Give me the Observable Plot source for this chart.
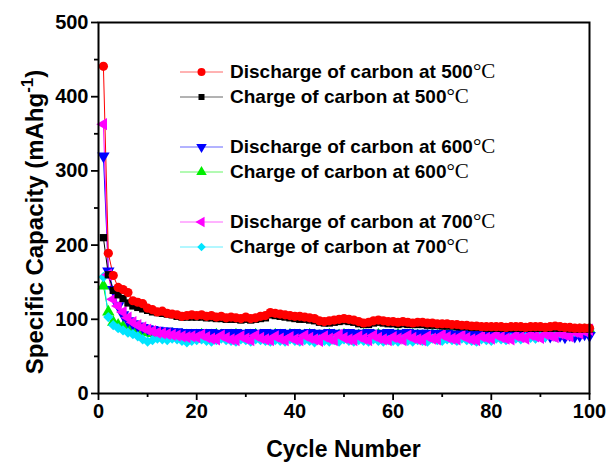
<!DOCTYPE html>
<html>
<head>
<meta charset="utf-8">
<script src="https://cdn.jsdelivr.net/npm/d3@7"></script>
<script src="https://cdn.jsdelivr.net/npm/@observablehq/plot@0.6"></script>
<style>
  body { margin: 0; background: #fff; }
  #chart { position: relative; width: 606px; height: 464px; }
  #legend { position: absolute; left: 180px; top: 59px; font: bold 19px "Liberation Sans", Arial, sans-serif; color: #000; }
  #legend .row { display: flex; align-items: center; height: 25px; white-space: nowrap; }
  #legend .gap { height: 25px; }
  #legend svg { margin-right: 7px; }
  #legend .deg { font-family: "Liberation Serif", "Times New Roman", serif; font-weight: normal; font-size: 21px; }
</style>
</head>
<body>
<div id="chart"></div>
<script>
// Cycle numbers
const cycles = d3.range(1, 101);

// Specific capacity (mAh/g) per cycle
const discharge500 = [
  441, 189, 159, 143, 140, 136, 125, 123, 121, 115,
  113, 110, 111, 108, 107, 106, 104, 105, 106, 105,
  106, 104, 105, 103, 104, 102, 103, 102, 101, 103,
  101, 102, 104, 105, 109, 108, 107, 106, 105, 104,
  104, 103, 102, 101, 98, 97, 98, 99, 100, 101,
  100, 99, 97, 95, 96, 98, 99, 98, 97, 97,
  96, 97, 96, 95, 96, 96, 95, 95, 94, 94,
  94, 93, 93, 92, 92, 91, 91, 90, 90, 90,
  90, 90, 89, 90, 90, 90, 89, 90, 90, 90,
  89, 90, 91, 90, 89, 89, 88, 88, 88, 88
];
const charge500 = [
  210, 160, 139, 133, 128, 122, 118, 116, 114, 112,
  110, 109, 108, 107, 106, 104, 103, 103, 103, 103,
  103, 102, 102, 101, 101, 100, 100, 100, 99, 100,
  99, 100, 101, 102, 106, 105, 104, 103, 102, 101,
  100, 100, 99, 98, 96, 95, 95, 96, 97, 98,
  97, 96, 94, 93, 93, 95, 96, 95, 94, 94,
  93, 94, 93, 93, 93, 93, 92, 92, 92, 91,
  91, 91, 90, 90, 90, 89, 89, 89, 88, 88,
  88, 88, 88, 88, 88, 88, 88, 88, 88, 88,
  88, 88, 88, 88, 88, 87, 87, 87, 87, 87
];
const discharge600 = [
  320, 165, 140, 118, 106, 98, 94, 91, 89, 87,
  86, 85, 84, 84, 83, 83, 82, 82, 82, 82,
  82, 81, 82, 81, 80, 82, 81, 82, 81, 80,
  82, 81, 80, 82, 81, 81, 82, 80, 81, 82,
  81, 80, 82, 81, 80, 81, 82, 81, 80, 81,
  82, 81, 80, 81, 82, 81, 80, 81, 82, 81,
  80, 81, 82, 81, 80, 81, 81, 80, 81, 80,
  81, 80, 79, 81, 80, 79, 80, 81, 79, 80,
  80, 79, 78, 80, 79, 78, 80, 79, 77, 79,
  78, 77, 79, 78, 76, 79, 77, 78, 80, 78
];
const charge600 = [
  145, 110, 96, 92, 90, 88, 86, 84, 83, 82,
  81, 80, 80, 79, 80, 79, 79, 78, 78, 78,
  79, 78, 78, 79, 78, 77, 78, 79, 78, 78,
  78, 79, 78, 77, 78, 79, 78, 78, 79, 78,
  78, 78, 79, 78, 77, 78, 79, 78, 78, 79,
  78, 77, 78, 79, 78, 78, 79, 78, 77, 78,
  79, 78, 78, 79, 78, 77, 78, 79, 78, 78,
  79, 78, 78, 79, 79, 78, 79, 80, 79, 79,
  80, 79, 80, 80, 81, 80, 81, 82, 81, 82,
  82, 83, 82, 83, 84, 83, 84, 85, 85, 86
];
const discharge700 = [
  363, 160, 127, 118, 110, 102, 96, 92, 89, 86,
  84, 82, 81, 80, 79, 78, 77, 76, 77, 76,
  79, 76, 74, 73, 78, 75, 73, 72, 77, 74,
  72, 78, 75, 73, 72, 77, 74, 72, 76, 73,
  72, 78, 75, 73, 71, 77, 74, 72, 79, 75,
  73, 72, 77, 74, 72, 78, 75, 73, 72, 76,
  74, 72, 78, 75, 73, 72, 77, 74, 73, 79,
  76, 74, 73, 78, 75, 73, 72, 77, 75, 74,
  79, 76, 74, 73, 78, 76, 74, 79, 77, 75,
  80, 78, 76, 81, 79, 77, 83, 81, 84, 86
];
const charge700 = [
  157, 103, 92, 88, 85, 82, 80, 77, 73, 70,
  72, 74, 73, 72, 74, 73, 71, 69, 71, 72,
  73, 71, 70, 72, 74, 72, 71, 70, 73, 72,
  70, 73, 72, 71, 70, 72, 71, 70, 73, 71,
  70, 72, 71, 69, 73, 71, 70, 72, 70, 73,
  71, 70, 72, 71, 70, 73, 71, 70, 72, 71,
  70, 73, 71, 70, 72, 71, 70, 74, 72, 71,
  73, 72, 71, 74, 72, 71, 70, 73, 72, 71,
  74, 73, 72, 75, 74, 73, 76, 75, 74, 77,
  76, 79, 78, 81, 80, 79, 83, 82, 85, 87
];

// Series in drawing order (later ones on top)
const series = [
  {name: "Charge of carbon at 600", values: charge600, color: "#00ee00", symbol: "triangle", rotate: 0, r: 4.6},
  {name: "Discharge of carbon at 600", values: discharge600, color: "#0000ff", symbol: "triangle", rotate: 180, r: 4.6},
  {name: "Charge of carbon at 700", values: charge700, color: "#00e5ff", symbol: "square", rotate: 45, r: 4.1},
  {name: "Discharge of carbon at 700", values: discharge700, color: "#ff00ff", symbol: "triangle", rotate: 270, r: 4.6},
  {name: "Charge of carbon at 500", values: charge500, color: "#000000", symbol: "square", rotate: 0, r: 4.1},
  {name: "Discharge of carbon at 500", values: discharge500, color: "#ff0000", symbol: "circle", rotate: 0, r: 4.6}
];

// Legend order and grouping
const legendOrder = [
  "Discharge of carbon at 500", "Charge of carbon at 500", null,
  "Discharge of carbon at 600", "Charge of carbon at 600", null,
  "Discharge of carbon at 700", "Charge of carbon at 700"
];

const yMajor = [0, 100, 200, 300, 400, 500];
const yMinor = [50, 150, 250, 350, 450];
const xMajor = [0, 20, 40, 60, 80, 100];
const xMinor = [10, 30, 50, 70, 90];

const font = '"Liberation Sans", Arial, sans-serif';

const plot = Plot.plot({
  width: 606,
  height: 464,
  marginLeft: 98,
  marginRight: 17,
  marginTop: 22,
  marginBottom: 71,
  style: {fontFamily: font, fontWeight: "bold", color: "#000", background: "#fff", overflow: "visible"},
  x: {domain: [0, 100]},
  y: {domain: [0, 500]},
  marks: [
    ...series.map(s => Plot.line(s.values, {x: (d, i) => cycles[i], y: d => d, stroke: s.color, strokeWidth: 1})),
    ...series.map(s => Plot.dot(s.values, {x: (d, i) => cycles[i], y: d => d, symbol: s.symbol, rotate: s.rotate, r: s.r, fill: s.color, stroke: "none"})),
    Plot.axisY({ticks: yMajor, tickSize: 7, tickPadding: 3, tickFormat: d => d, label: null, strokeWidth: 1.8, fontSize: 20}),
    Plot.axisY({ticks: yMinor, tickSize: 4, tickFormat: () => "", label: null, strokeWidth: 1.8}),
    Plot.axisX({ticks: xMajor, tickSize: 7, tickPadding: 3, tickFormat: d => d, label: null, strokeWidth: 1.8, fontSize: 20}),
    Plot.axisX({ticks: xMinor, tickSize: 4, tickFormat: () => "", label: null, strokeWidth: 1.8}),
    Plot.frame({stroke: "#000", strokeWidth: 2})
  ]
});

const chart = document.getElementById("chart");
chart.appendChild(plot);

// Axis titles
const svg = d3.select(plot);
const xr = plot.scale("x").range;
svg.append("text")
  .attr("x", (xr[0] + xr[1]) / 2)
  .attr("y", 457)
  .attr("text-anchor", "middle")
  .style("font", `bold 23px ${font}`)
  .text("Cycle Number");

const yt = svg.append("text")
  .attr("transform", "translate(43,222) rotate(-90)")
  .attr("text-anchor", "middle")
  .style("font", `bold 24px ${font}`);
yt.append("tspan").text("Specific Capacity (mAhg");
yt.append("tspan").attr("dy", -10).style("font-size", "17px").text("-1");
yt.append("tspan").attr("dy", 10).text(")");

// Legend
const legend = d3.select(chart).append("div").attr("id", "legend");
for (const name of legendOrder) {
  if (name === null) { legend.append("div").attr("class", "gap"); continue; }
  const s = series.find(d => d.name === name);
  const row = legend.append("div").attr("class", "row");
  const sw = row.append("svg").attr("width", 43).attr("height", 14);
  sw.append("line").attr("x1", 0).attr("x2", 43).attr("y1", 7).attr("y2", 7)
    .attr("stroke", s.color).attr("stroke-width", 1).attr("stroke-opacity", 0.6);
  const area = s.symbol === "square" ? 36 : (s.symbol === "circle" ? 50 : 48);
  const sym = s.symbol === "circle" ? d3.symbolCircle : (s.symbol === "square" ? d3.symbolSquare : d3.symbolTriangle);
  sw.append("path").attr("d", d3.symbol(sym, area)())
    .attr("transform", `translate(21.5,7) rotate(${s.rotate})`)
    .attr("fill", s.color);
  const label = row.append("span");
  label.append("span").text(s.name);
  label.append("span").attr("class", "deg").text("°C");
}
</script>
</body>
</html>
